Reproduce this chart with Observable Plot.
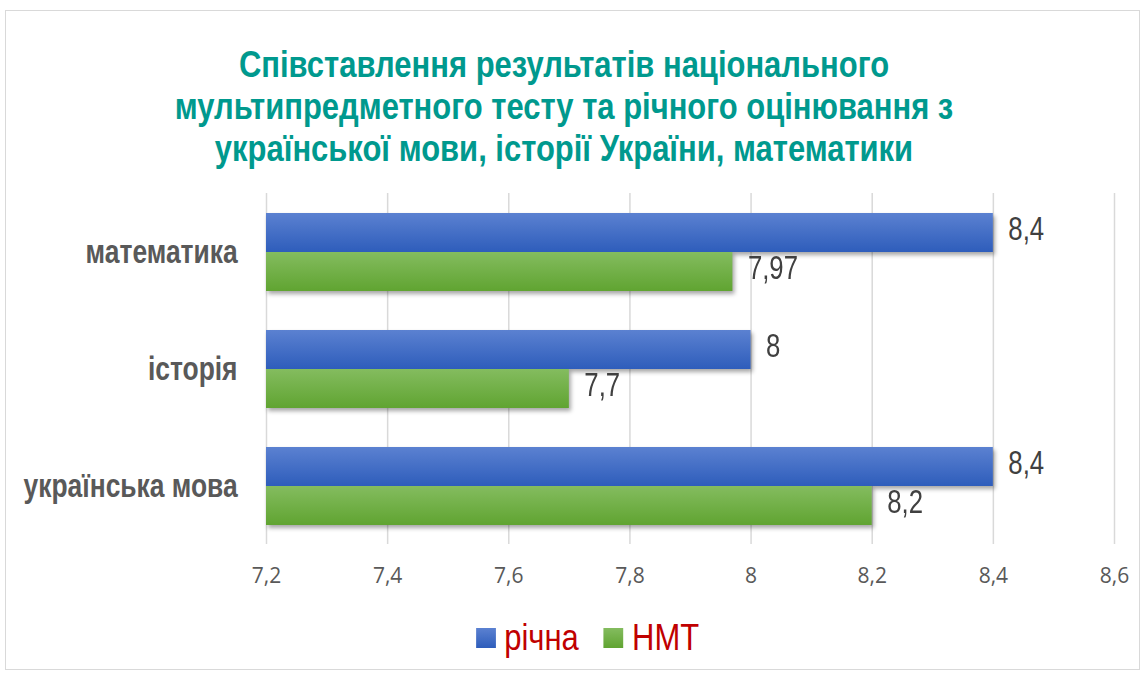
<!DOCTYPE html>
<html>
<head>
<meta charset="utf-8">
<script src="https://cdn.jsdelivr.net/npm/d3@7"></script>
<script src="https://cdn.jsdelivr.net/npm/@observablehq/plot@0.6"></script>
<style>
  html, body { margin: 0; padding: 0; background: #fff; width: 1145px; height: 675px; overflow: hidden; }
  #frame { position: absolute; left: 5px; top: 10px; width: 1133px; height: 658px; border: 1px solid #d9d9d9; z-index: 5; pointer-events: none; }
  #title { position: absolute; left: 0; top: 44px; width: 1128px; text-align: center; font-family: "Liberation Sans", Arial, sans-serif; font-weight: bold; font-size: 36px; line-height: 42px; color: #00998e; z-index: 3; transform: scaleX(0.86); transform-origin: 50% 50%; white-space: nowrap; }
  #chart { position: absolute; left: 0; top: 0; }
  #legend { position: absolute; left: 0; top: 620px; width: 1175px; display: flex; justify-content: center; align-items: center; font-family: "Liberation Sans", Arial, sans-serif; font-size: 36px; line-height: 36px; color: #c00000; z-index: 3; transform: scaleX(0.86); transform-origin: 50% 50%; }
  #legend span.item { display: inline-flex; align-items: center; }
  #legend span.item + span.item { margin-left: 29px; }
  #legend span.sw { display: inline-block; width: 23px; height: 20px; margin-right: 10px; }
  g[aria-label="bar"] { filter: drop-shadow(2px 3px 2px rgba(0,0,0,0.35)); }
</style>
</head>
<body>
<svg width="0" height="0" style="position:absolute">
  <defs>
    <linearGradient id="gBlue" x1="0" y1="0" x2="0" y2="1">
      <stop offset="0" stop-color="#5b81d1"/>
      <stop offset="1" stop-color="#2e5dbb"/>
    </linearGradient>
    <linearGradient id="gGreen" x1="0" y1="0" x2="0" y2="1">
      <stop offset="0" stop-color="#84bc5f"/>
      <stop offset="1" stop-color="#60a431"/>
    </linearGradient>
  </defs>
</svg>
<div id="frame"></div>
<div id="title">Співставлення результатів національного<br>мультипредметного тесту та річного оцінювання з<br>української мови, історії України, математики</div>
<div id="chart"></div>
<div id="legend"></div>
<script>
const subjects = ["математика", "історія", "українська мова"];
const seriesNames = ["річна", "НМТ"];
const annualValues = [8.4, 8.0, 8.4];
const nmtValues = [7.97, 7.7, 8.2];
const xTicks = [7.2, 7.4, 7.6, 7.8, 8.0, 8.2, 8.4, 8.6];
const seriesFills = ["url(#gBlue)", "url(#gGreen)"];
const legendSwatches = ["linear-gradient(#5b81d1, #2e5dbb)", "linear-gradient(#84bc5f, #60a431)"];

const data = [];
subjects.forEach((s, i) => {
  data.push({subject: s, series: seriesNames[0], value: annualValues[i]});
  data.push({subject: s, series: seriesNames[1], value: nmtValues[i]});
});
const fmt = v => String(+v.toFixed(2)).replace(".", ",");

const chart = Plot.plot({
  width: 1145,
  height: 610,
  marginLeft: 266,
  marginRight: 31,
  marginTop: 192,
  marginBottom: 65,
  style: {background: "transparent", overflow: "visible"},
  x: {domain: [7.2, 8.6], clamp: true, ticks: xTicks, tickFormat: fmt, tickSize: 0, tickPadding: 24, label: null},
  fy: {domain: subjects, padding: 0, label: null, tickSize: 0, tickPadding: 29},
  y: {domain: seriesNames, paddingInner: 0, paddingOuter: 0.475, axis: null},
  color: {domain: seriesNames, range: seriesFills},
  marks: [
    Plot.ruleX(xTicks, {stroke: "#d9d9d9", strokeWidth: 1.5}),
    Plot.barX(data, {x: "value", y: "series", fy: "subject", fill: "series"}),
    Plot.text(data, {x: "value", y: "series", fy: "subject", text: d => fmt(d.value), textAnchor: "start", dx: 15, dy: -4,
      fontSize: 33, fill: "#404040", fontFamily: "Liberation Sans, Arial, sans-serif"})
  ]
});
document.getElementById("chart").appendChild(chart);

const svg = d3.select(chart);
svg.selectAll("[aria-label^='x-axis'] text")
  .style("font-family", "'Open Sans', sans-serif").style("font-size", "21px").attr("fill", "#595959");
const fyTexts = svg.selectAll("[aria-label^='fy-axis'] text")
  .style("font-family", "'Liberation Sans', Arial, sans-serif").style("font-size", "33px").style("font-weight", "bold").attr("fill", "#595959");

// horizontal condensing to imitate the narrow look of the original
function condense(sel, s, side) {
  sel.each(function() {
    const b = this.getBBox();
    const ox = side === "right" ? b.x + b.width : b.x;
    const prev = this.getAttribute("transform") || "";
    this.setAttribute("transform", `${prev} translate(${ox},0) scale(${s},1) translate(${-ox},0)`);
  });
}
condense(fyTexts, 0.8, "right");
condense(svg.selectAll("g[aria-label='text'] text"), 0.78, "left");

const legend = d3.select("#legend");
seriesNames.forEach((name, i) => {
  const item = legend.append("span").attr("class", "item");
  item.append("span").attr("class", "sw").style("background", legendSwatches[i]);
  item.append("span").text(name);
});
</script>
</body>
</html>
